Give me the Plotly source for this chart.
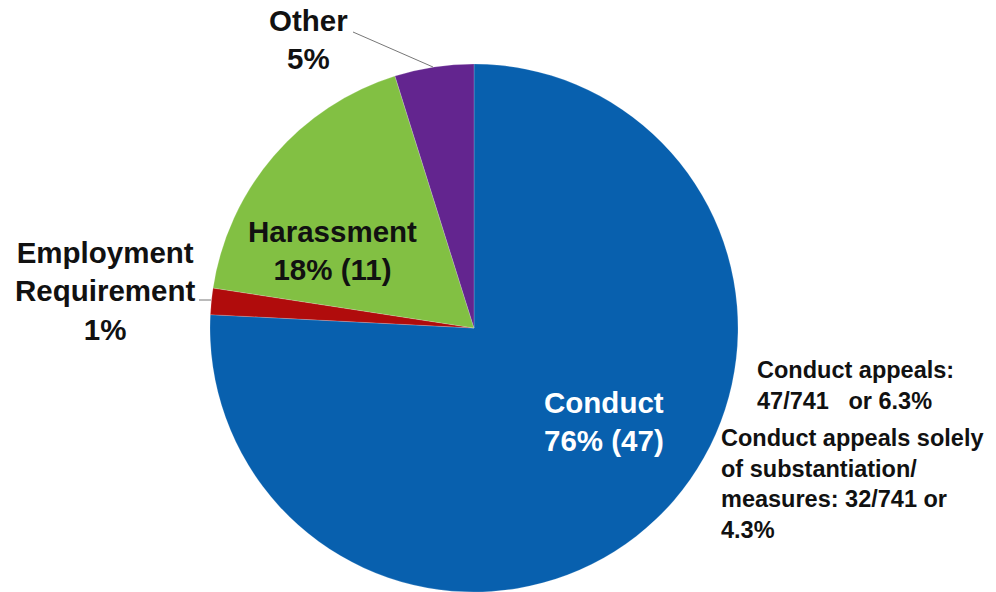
import plotly.graph_objects as go

# Appeal categories (clockwise from 12 o'clock) and their counts
categories = ["Conduct", "Employment Requirement", "Harassment", "Other"]
counts = [47, 1, 11, 3]
pct_labels = ["76%", "1%", "18%", "5%"]
colors = ["#0860AE", "#B00C0C", "#82C043", "#63258F"]

side_note_1 = ["Conduct appeals:", "47/741   or 6.3%"]
side_note_2 = ["Conduct appeals solely", "of substantiation/",
               "measures: 32/741 or", "4.3%"]

W, H = 996, 592
FONT = "Liberation Sans, Arial, sans-serif"


def px(x):
    return x / W


def py(y):
    return 1 - y / H


fig = go.Figure(go.Pie(
    labels=categories,
    values=counts,
    sort=False,
    direction="clockwise",
    rotation=0,
    textinfo="none",
    hoverinfo="label+percent",
    marker=dict(colors=colors, line=dict(color="rgba(255,255,255,0.3)", width=0.6)),
    domain=dict(x=[px(474 - 264), px(474 + 264)], y=[0, 528 / H]),
    showlegend=False,
))

big = dict(family=FONT, size=29.5, color="#111111")
note = dict(family=FONT, size=23.5, color="#111111")
annotations = [
    dict(x=px(604), y=py(421),
         text=f"<b>{categories[0]}<br>{pct_labels[0]} ({counts[0]})</b>",
         font=dict(family=FONT, size=29.5, color="white")),
    dict(x=px(332), y=py(250),
         text=f"<b>{categories[2]}<br>{pct_labels[2]} ({counts[2]})</b>", font=big),
    dict(x=px(105), y=py(291),
         text="<b>Employment<br>Requirement<br>" + pct_labels[1] + "</b>", font=big),
    dict(x=px(308), y=py(39),
         text=f"<b>{categories[3]}<br>{pct_labels[3]}</b>", font=big),
    dict(x=px(755), y=py(386), xanchor="left",
         text="<b>" + "<br>".join(side_note_1) + "</b>", font=note, align="left"),
    dict(x=px(719), y=py(484), xanchor="left",
         text="<b>" + "<br>".join(side_note_2) + "</b>", font=note, align="left"),
]
for a in annotations:
    a.setdefault("xanchor", "center")
    a.update(xref="paper", yref="paper", yanchor="middle", showarrow=False)

shapes = [
    # leader line for "Other"
    dict(type="line", xref="paper", yref="paper",
         x0=px(353), y0=py(32), x1=px(433), y1=py(67),
         line=dict(color="#777777", width=1)),
    # leader line for "Employment Requirement"
    dict(type="line", xref="paper", yref="paper",
         x0=px(199), y0=py(300), x1=px(211), y1=py(300),
         line=dict(color="#777777", width=1)),
]

fig.update_layout(
    width=W, height=H,
    margin=dict(l=0, r=0, t=0, b=0),
    paper_bgcolor="white",
    plot_bgcolor="white",
    annotations=annotations,
    shapes=shapes,
)

fig.write_html("out.html")
